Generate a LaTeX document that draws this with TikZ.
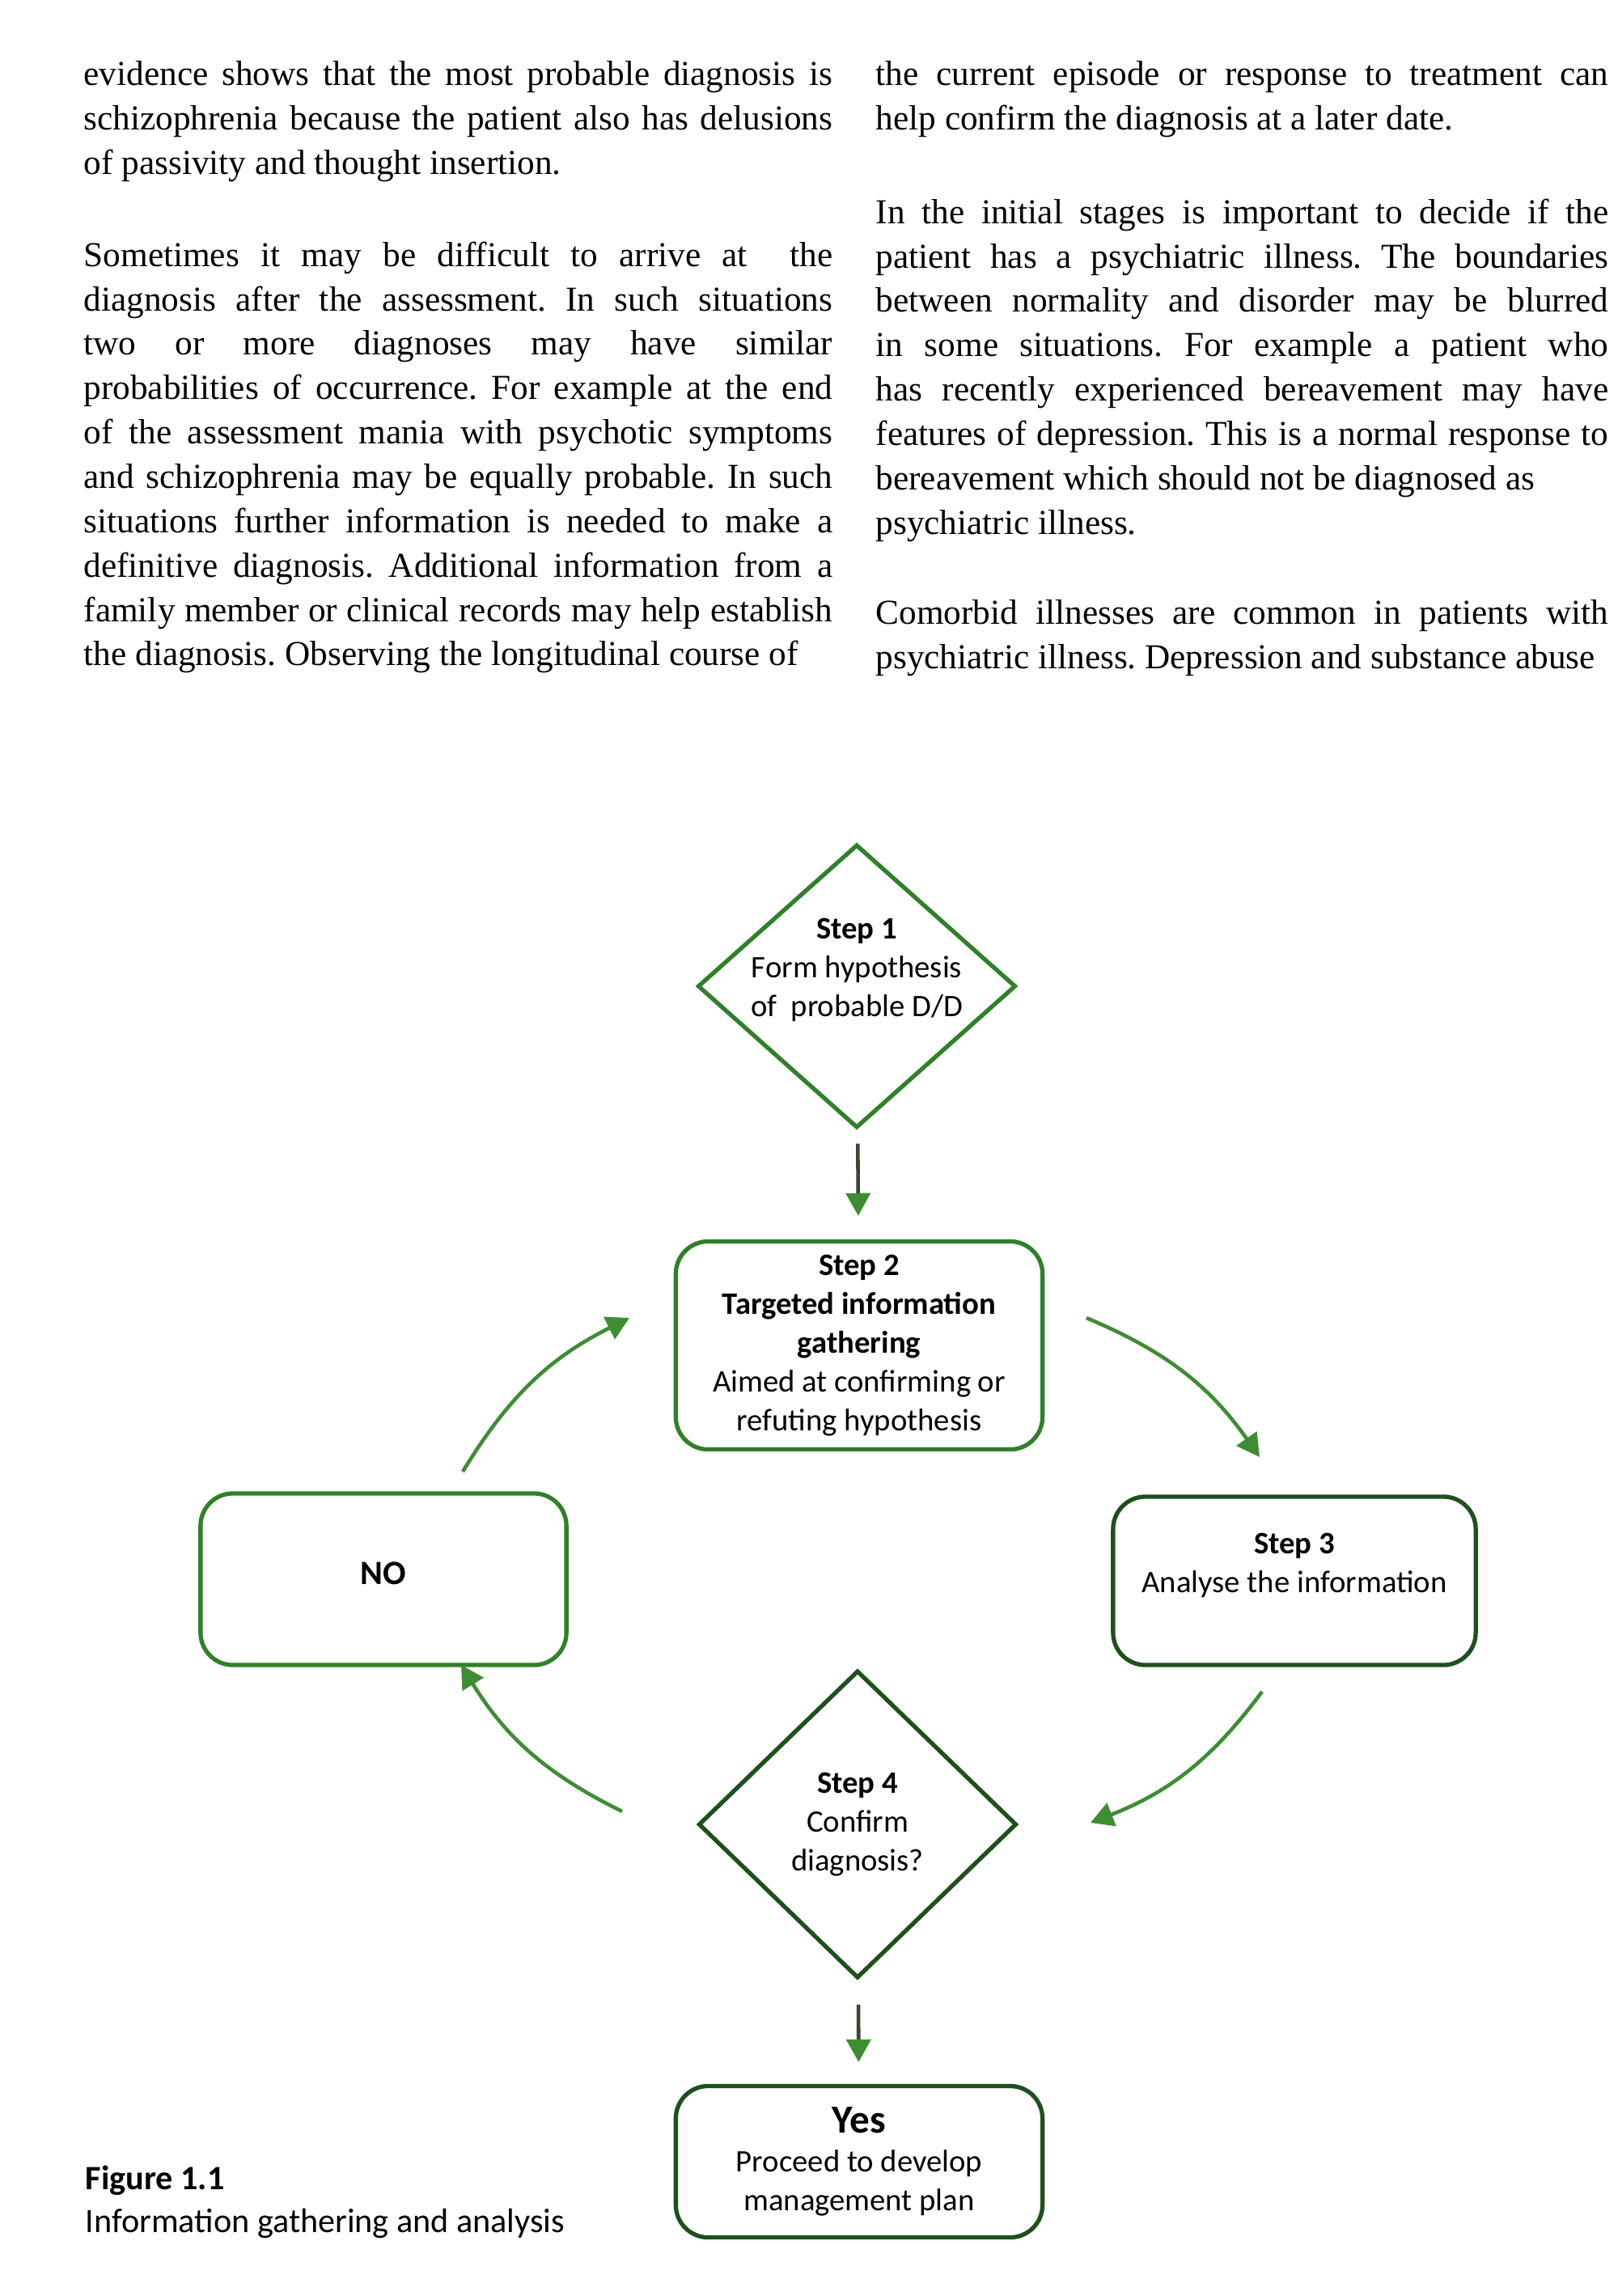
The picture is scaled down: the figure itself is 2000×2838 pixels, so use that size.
\documentclass[tikz,border=0pt]{standalone}
\usepackage{fontspec}
\setmainfont{Liberation Serif}
\newfontfamily\diagfont{Carlito}
\usetikzlibrary{shapes.geometric,arrows.meta}
\definecolor{stepgreen}{RGB}{48,128,42}
\definecolor{darkgreen}{RGB}{30,80,28}
\definecolor{arrowgreen}{RGB}{62,140,52}
\definecolor{shaftgrey}{RGB}{55,70,50}

\begin{document}
\begin{tikzpicture}[x=0.01cm,y=-0.01cm,
        >={Triangle[width=0.3cm,length=0.28cm]},
        bodytext/.style={anchor=north west,inner sep=0pt,align=justify,
            font=\fontsize{12.3}{15.6}\selectfont,
            execute at begin node={\frenchspacing\tolerance=9999\relax\hyphenpenalty=10000\relax}},
        steptext/.style={font=\diagfont\fontsize{11}{13.7}\selectfont,align=center},
        stepbox/.style={draw=stepgreen,line width=1.5pt,rounded corners=0.4cm,
            inner sep=0pt,steptext},
        decision/.style={draw=stepgreen,line width=1.5pt,diamond,inner sep=0pt,steptext},
        flow/.style={->,arrowgreen,line width=1.3pt},
        down/.style={-{Triangle[width=0.3cm,length=0.28cm,color=arrowgreen]},shaftgrey,line width=1.3pt}]
    \useasboundingbox[fill=white] (0,0) rectangle (2000,2838);

    % text of the page
    \node[bodytext,text width=9.25cm] (lp1) at (103,75) {evidence shows that the most probable diagnosis is\linebreak
        schizophrenia because the patient also has delusions\linebreak
        of passivity and thought insertion.};
    \node[bodytext,text width=9.25cm] (lp2) at (103,298) {\parfillskip=0pt Sometimes it may be difficult to arrive at\ \ the\linebreak
        diagnosis after the assessment. In such situations\linebreak
        two or more diagnoses may have similar\linebreak
        probabilities of occurrence. For example at the end\linebreak
        of the assessment mania with psychotic symptoms\linebreak
        and schizophrenia may be equally probable. In such\linebreak
        situations further information is needed to make a\linebreak
        definitive diagnosis. Additional information from a\linebreak
        family member or clinical records may help establish\linebreak
        the diagnosis. Observing the longitudinal course of};
    \node[bodytext,text width=9.05cm] (rp1) at (1082,75) {the current episode or response to treatment can\linebreak
        help confirm the diagnosis at a later date.};
    \node[bodytext,text width=9.05cm] (rp2) at (1082,245) {In the initial stages is important to decide if the\linebreak
        patient has a psychiatric illness. The boundaries\linebreak
        between normality and disorder may be blurred\linebreak
        in some situations. For example a patient who\linebreak
        has recently experienced bereavement may have\linebreak
        features of depression. This is a normal response to\linebreak
        bereavement which should not be diagnosed as\newline
        psychiatric illness.};
    \node[bodytext,text width=9.05cm] (rp3) at (1082,741) {\parfillskip=0pt Comorbid illnesses are common in patients with\linebreak
        psychiatric illness. Depression and substance abuse};

    % the cycle
    \node[decision,minimum width=3.93cm,minimum height=3.5cm,
        label={[steptext,yshift=0.2cm]center:{\textbf{Step 1}\\Form hypothesis\\of\ \ probable D/D}}] (step1) at (1059,1219) {};
    \node[stepbox,minimum width=4.53cm,minimum height=2.57cm] (step2) at (1062,1663)
        {\textbf{Step 2}\\\textbf{Targeted information}\\\textbf{gathering}\\Aimed at confirming or\\refuting hypothesis};
    \node[stepbox,draw=darkgreen,minimum width=4.48cm,minimum height=2.08cm,
        label={[steptext,yshift=0.19cm]center:{\textbf{Step 3}\\Analyse the information}}] (step3) at (1600,1954) {};
    \node[decision,draw=darkgreen,minimum width=3.93cm,minimum height=3.8cm] (step4) at (1060,2255)
        {\textbf{Step 4}\\Confirm\\diagnosis?};
    \node[stepbox,minimum width=4.52cm,minimum height=2.12cm,
        label={[font=\diagfont\bfseries\fontsize{12}{14}\selectfont,yshift=0.07cm]center:NO}] (no) at (474,1952) {};
    \node[stepbox,draw=darkgreen,minimum width=4.53cm,minimum height=1.87cm] (yes) at (1062,2672)
        {{\bfseries\fontsize{14}{16}\selectfont Yes}\\Proceed to develop\\management plan};

    \coordinate (noOut) at (572,1819);
    \coordinate (twoIn) at (778,1629);
    \coordinate (twoOut) at (1343,1629);
    \coordinate (threeIn) at (1557,1801);
    \coordinate (threeOut) at (1560,2091);
    \coordinate (fourIn) at (1348,2253);
    \coordinate (fourOut) at (769,2239);
    \coordinate (noIn) at (570,2058);

    \draw[down,shorten <=0.18cm,shorten >=0.29cm] (step1) -- (step2);
    \draw[down,shorten <=0.31cm,shorten >=0.27cm] (step4) -- (yes);
    \draw[flow] (noOut) to[bend left=16] (twoIn);
    \draw[flow] (twoOut) to[bend left=16] (threeIn);
    \draw[flow] (threeOut) to[bend left=16] (fourIn);
    \draw[flow] (fourOut) to[bend left=16] (noIn);

    % caption
    \node[anchor=north west,inner sep=0pt,align=left,font=\diagfont\fontsize{12}{15}\selectfont] (caption) at (105,2676)
        {\textbf{Figure 1.1}\\Information gathering and analysis};
\end{tikzpicture}
\end{document}
